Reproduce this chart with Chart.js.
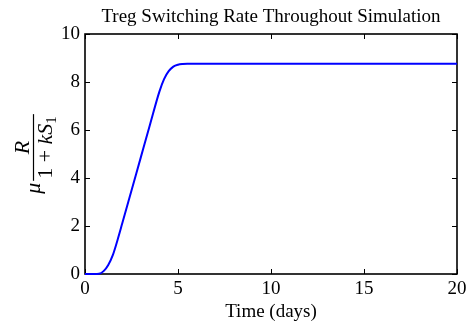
<!DOCTYPE html>
<html>
<head>
<meta charset="utf-8">
<script src="https://cdn.jsdelivr.net/npm/chart.js@4/dist/chart.umd.min.js"></script>
<style>
  html, body { margin: 0; padding: 0; background: #fff; }
  #wrap { width: 471px; height: 324px; position: relative; }
</style>
</head>
<body>
<div id="wrap"><canvas id="c" width="471" height="324"></canvas></div>
<script>
"use strict";

// simulation output
const timeDays = [0, 0.5, 0.75, 1.0, 1.25, 1.5, 1.75, 2.0, 2.5, 3.0, 3.5, 4.0, 4.25, 4.5, 4.75, 5.0, 5.25, 5.5, 20];
const switchRate = [0, 0, 0.01, 0.12, 0.38, 0.8, 1.42, 2.1, 3.48, 4.86, 6.24, 7.6, 8.12, 8.45, 8.64, 8.72, 8.75, 8.76, 8.76];
const xTicks = [0, 5, 10, 15, 20];
const yTicks = [0, 2, 4, 6, 8, 10];
const titleText = "Treg Switching Rate Throughout Simulation";

const SERIF = "'Liberation Serif', 'DejaVu Serif', serif";

// MATLAB style: closed box + short inward ticks on all four sides
const boxPlugin = {
  id: "box",
  beforeDatasetsDraw(chart) {
    const { ctx, chartArea: a, scales } = chart;
    const len = 5;
    ctx.save();
    ctx.strokeStyle = "#000";
    ctx.lineWidth = 1;
    ctx.beginPath();
    xTicks.forEach(v => {
      const x = Math.round(scales.x.getPixelForValue(v)) + 0.5;
      ctx.moveTo(x, a.bottom); ctx.lineTo(x, a.bottom - len);
      ctx.moveTo(x, a.top);    ctx.lineTo(x, a.top + len);
    });
    yTicks.forEach(v => {
      const y = Math.round(scales.y.getPixelForValue(v)) + 0.5;
      ctx.moveTo(a.left, y);  ctx.lineTo(a.left + len, y);
      ctx.moveTo(a.right, y); ctx.lineTo(a.right - len, y);
    });
    ctx.stroke();
    ctx.lineWidth = 1.6;
    ctx.strokeRect(a.left, a.top, a.right - a.left, a.bottom - a.top);
    ctx.restore();
  },
};

// title centred over the plot box, not the whole canvas
const titlePlugin = {
  id: "plotTitle",
  afterDraw(chart) {
    const { ctx, chartArea: a } = chart;
    ctx.save();
    ctx.fillStyle = "#000";
    ctx.font = `19px ${SERIF}`;
    ctx.textAlign = "center";
    ctx.textBaseline = "alphabetic";
    ctx.fillText(titleText, (a.left + a.right) / 2, 22);
    ctx.restore();
  },
};

// y label: mu * R / (1 + k S_1), rotated
const yLabelPlugin = {
  id: "yLabel",
  afterDraw(chart) {
    const { ctx } = chart;
    const fs = 22;
    const it = `italic ${fs}px ${SERIF}`;
    const rm = `${fs}px ${SERIF}`;
    const sub = `${Math.round(fs * 0.7)}px ${SERIF}`;

    ctx.save();
    ctx.fillStyle = "#000";
    ctx.strokeStyle = "#000";
    ctx.textBaseline = "alphabetic";

    const denParts = [
      [rm, "1 + "], [it, "k"], [it, "S"], [sub, "1"],
    ];
    let denW = 0;
    denParts.forEach(p => { ctx.font = p[0]; denW += ctx.measureText(p[1]).width; });
    ctx.font = it;
    const numW = ctx.measureText("R").width;
    const muW = ctx.measureText("\u03bc").width;
    const fracW = Math.max(denW, numW) + 4;
    const gap = 2;
    const total = muW + gap + fracW;

    ctx.translate(33, 154);
    ctx.rotate(-Math.PI / 2);
    let u = -total / 2;

    ctx.font = it;
    ctx.fillText("\u03bc", u, 7);
    u += muW + gap;

    ctx.lineWidth = 1.2;
    ctx.beginPath();
    ctx.moveTo(u, 0.5); ctx.lineTo(u + fracW, 0.5);
    ctx.stroke();

    ctx.font = it;
    ctx.fillText("R", u + (fracW - numW) / 2, -4);

    let d = u + (fracW - denW) / 2;
    denParts.forEach(p => {
      ctx.font = p[0];
      ctx.fillText(p[1], d, p[0] === sub ? 23 : 19);
      d += ctx.measureText(p[1]).width;
    });
    ctx.restore();
  },
};

new Chart(document.getElementById("c"), {
  type: "line",
  data: {
    datasets: [{
      data: timeDays.map((t, i) => ({ x: t, y: switchRate[i] })),
      borderColor: "#0000ff",
      borderWidth: 2,
      pointRadius: 0,
      cubicInterpolationMode: "monotone",
      fill: false,
      clip: 4,
    }],
  },
  options: {
    responsive: false,
    animation: false,
    events: [],
    layout: { padding: { left: 0, right: 14, top: 34, bottom: 0 } },
    plugins: {
      legend: { display: false },
      tooltip: { enabled: false },
      title: { display: false },
    },
    scales: {
      x: {
        type: "linear",
        min: 0, max: 20,
        afterBuildTicks: s => { s.ticks = xTicks.map(v => ({ value: v })); },
        afterFit: s => { s.height = 50; },
        grid: { display: false, drawTicks: false },
        border: { display: false },
        ticks: { color: "#000", padding: 4, font: { family: SERIF, size: 19 } },
        title: {
          display: true,
          text: "Time (days)",
          color: "#000",
          font: { family: SERIF, size: 19 },
          padding: { top: 0, bottom: 1 },
        },
      },
      y: {
        type: "linear",
        min: 0, max: 10,
        afterBuildTicks: s => { s.ticks = yTicks.map(v => ({ value: v })); },
        afterFit: s => { s.width = 85; },
        grid: { display: false, drawTicks: false },
        border: { display: false },
        ticks: { color: "#000", padding: 5, font: { family: SERIF, size: 19 } },
      },
    },
  },
  plugins: [boxPlugin, titlePlugin, yLabelPlugin],
});
</script>
</body>
</html>
